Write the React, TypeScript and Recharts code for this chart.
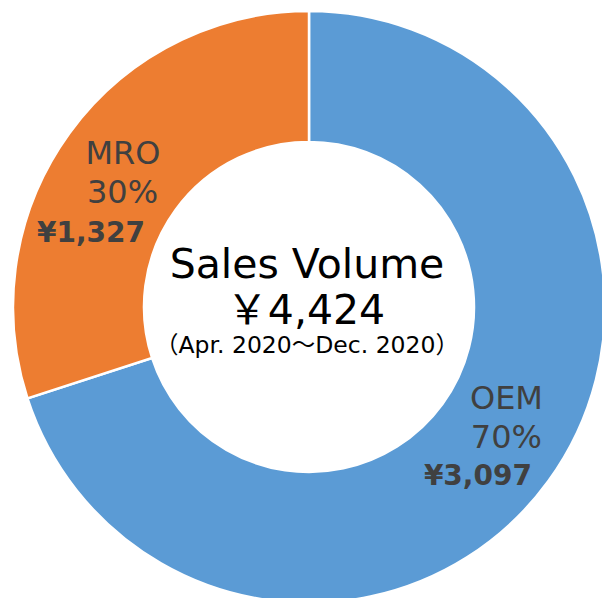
import React from 'react';
import { PieChart, Pie, Cell, Label } from 'recharts';

const categories = ['OEM', 'MRO'];
const values = [3097, 1327];
const colors = ['#5B9BD5', '#ED7D31'];
const centerTitle = 'Sales Volume';
const centerPeriod = '（Apr. 2020〜Dec. 2020）';

const data = categories.map((name, i) => ({ name, value: values[i] }));
const total = values.reduce((a, b) => a + b, 0);

const FONT = "'DejaVu Sans', 'Noto Sans CJK JP', sans-serif";
const fmt = (n: number) => n.toLocaleString('en-US');

const CX = 309;
const CY = 307;

// per-slice text placement tweaks (relative to the label anchor)
const LABEL_ADJ = [
  { dx: [47.5, 46.5, 36.5], dy: [-33.5, 5.5, 42] },
  { dx: [38, 35.5, 22.5], dy: [-7.5, 32, 71] },
];

const RADIAN = Math.PI / 180;

const renderLabel = (props: any) => {
  const { cx, cy, midAngle, innerRadius, outerRadius, index, name, value } = props;
  const r = (innerRadius + outerRadius) / 2;
  const ax = cx + r * Math.cos(-midAngle * RADIAN);
  const ay = cy + r * Math.sin(-midAngle * RADIAN);
  const adj = LABEL_ADJ[index];
  const pct = Math.round((value / total) * 100);
  return (
    <g>
      <text x={ax + adj.dx[0]} y={ay + adj.dy[0]} textAnchor="end" fill="#404040" fontSize={32} fontFamily={FONT}>
        {name}
      </text>
      <text x={ax + adj.dx[1]} y={ay + adj.dy[1]} textAnchor="end" fill="#404040" fontSize={32} fontFamily={FONT}>
        {pct}%
      </text>
      <text x={ax + adj.dx[2]} y={ay + adj.dy[2]} textAnchor="end" fill="#404040" fontSize={28} fontWeight={600} fontFamily={FONT}>
        {'¥' + fmt(value)}
      </text>
    </g>
  );
};

const CenterContent = () => {
  const cx = CX;
  const cy = CY;
  return (
    <g>
      <text x={cx - 2} y={cy - 29} textAnchor="middle" fill="#000" fontSize={41} fontFamily={FONT}>
        {centerTitle}
      </text>
      <text x={cx - 3} y={cy + 17} textAnchor="middle" fill="#000" fontSize={41} fontFamily={FONT}>
        {'￥' + fmt(total)}
      </text>
      <text x={cx - 2} y={cy + 46} textAnchor="middle" fill="#000" fontSize={23.5} fontFamily={FONT}>
        {centerPeriod}
      </text>
    </g>
  );
};

export default function App() {
  return (
    <div style={{ position: 'absolute', left: 0, top: 0, background: '#fff' }}>
      <PieChart width={602} height={598} margin={{ top: 0, right: 0, bottom: 0, left: 0 }}>
        <Pie
          data={data}
          dataKey="value"
          nameKey="name"
          cx={CX}
          cy={CY}
          innerRadius={165}
          outerRadius={296}
          startAngle={90}
          endAngle={-270}
          stroke="#ffffff"
          strokeWidth={2.5}
          label={renderLabel}
          labelLine={false}
          isAnimationActive={false}
        >
          {data.map((d, i) => (
            <Cell key={d.name} fill={colors[i]} />
          ))}
          <Label position="center" content={<CenterContent />} />
        </Pie>
      </PieChart>
    </div>
  );
}
